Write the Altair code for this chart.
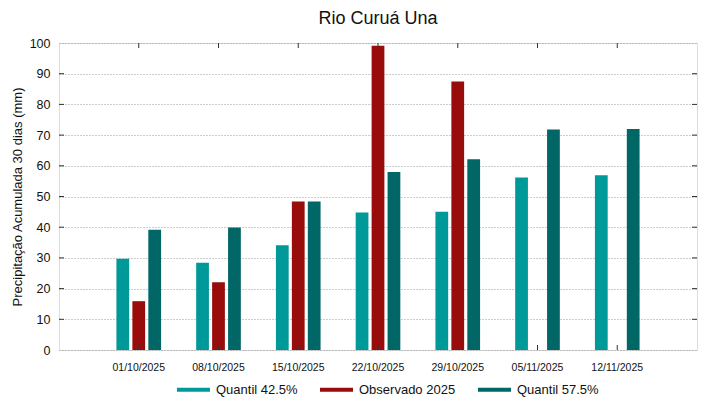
import altair as alt
import pandas as pd

dates = ["01/10/2025", "08/10/2025", "15/10/2025", "22/10/2025",
         "29/10/2025", "05/11/2025", "12/11/2025"]
series_names = ["Quantil 42.5%", "Observado 2025", "Quantil 57.5%"]
series_colors = ["#009999", "#990c0c", "#006666"]
q425 = [29.7, 28.4, 34.1, 44.8, 45.0, 56.2, 56.9]
obs = [15.9, 22.1, 48.4, 99.1, 87.5, None, None]
q575 = [39.2, 39.9, 48.4, 58.0, 62.1, 71.8, 72.0]
y_ticks = [0, 10, 20, 30, 40, 50, 60, 70, 80, 90, 100]

rows = []
for name, vals in zip(series_names, [q425, obs, q575]):
    for d, v in zip(dates, vals):
        if v is not None:
            rows.append({"data": d, "serie": name, "valor": v})
df = pd.DataFrame(rows)
df_dates = pd.DataFrame({"data": dates})
df_yt = pd.DataFrame({"valor": y_ticks[1:-1]})

W, H = 638, 307
FONT = "Liberation Sans"

xscale = alt.Scale(domain=dates, paddingInner=0.4, paddingOuter=0.7)
yscale = alt.Scale(domain=[0, 100], nice=False)

x_axis = alt.Axis(title=None, labelAngle=0, ticks=False, domain=False,
                  labelFontSize=10.5, labelPadding=12, labelFont=FONT,
                  labelColor="#111")
y_axis = alt.Axis(title="Precipitação Acumulada 30 dias (mm)", values=y_ticks,
                  ticks=False, domain=False, labelFontSize=12.5, labelPadding=9,
                  labelOverlap=False, labelFont=FONT, labelColor="#111",
                  titleFont=FONT, titleFontSize=13, titleFontWeight="normal",
                  titleColor="#111", titlePadding=5,
                  grid=True, gridDash=[1, 2], gridColor="#999999", gridWidth=1)

bars = alt.Chart(df).mark_bar().encode(
    x=alt.X("data:N", scale=xscale, sort=dates, axis=x_axis),
    xOffset=alt.XOffset("serie:N", sort=series_names,
                        scale=alt.Scale(domain=series_names, paddingInner=0.2, paddingOuter=0.1)),
    y=alt.Y("valor:Q", scale=yscale, axis=y_axis),
    color=alt.Color("serie:N", sort=series_names,
                    scale=alt.Scale(domain=series_names, range=series_colors),
                    legend=alt.Legend(title=None, orient="none", legendX=118, legendY=330,
                                      direction="horizontal",
                                      symbolType="M-1,-0.12L1,-0.12L1,0.12L-1,0.12Z",
                                      symbolSize=1089, symbolStrokeWidth=0,
                                      labelFontSize=13, labelFont=FONT, labelColor="#111",
                                      labelOffset=6, columnPadding=22, labelLimit=300)),
)

tick_top = alt.Chart(df_dates).mark_rule(color="#333", strokeWidth=1).encode(
    x=alt.X("data:N", scale=xscale, sort=dates, axis=x_axis), y=alt.value(0), y2=alt.value(5))
tick_bot = alt.Chart(df_dates).mark_rule(color="#333", strokeWidth=1).encode(
    x=alt.X("data:N", scale=xscale, sort=dates, axis=x_axis), y=alt.value(H - 5), y2=alt.value(H))
tick_left = alt.Chart(df_yt).mark_rule(color="#333", strokeWidth=1).encode(
    y=alt.Y("valor:Q", scale=yscale, axis=y_axis), x=alt.value(0), x2=alt.value(5))
tick_right = alt.Chart(df_yt).mark_rule(color="#333", strokeWidth=1).encode(
    y=alt.Y("valor:Q", scale=yscale, axis=y_axis), x=alt.value(W - 5), x2=alt.value(W))

chart = alt.layer(bars, tick_top, tick_bot, tick_left, tick_right).properties(
    width=W, height=H,
    title=alt.TitleParams("Rio Curuá Una", fontSize=18, font=FONT, fontWeight="normal",
                          color="#111", anchor="middle", frame="group", offset=9),
    autosize=alt.AutoSizeParams(type="none"),
    padding={"left": 51, "top": 35, "right": 14, "bottom": 48},
).configure_view(stroke="#333", strokeWidth=1).configure_axis(
    labelOverlap=False
).configure(background="white")

chart.save("out.html", embed_options={"renderer": "svg", "actions": False})
